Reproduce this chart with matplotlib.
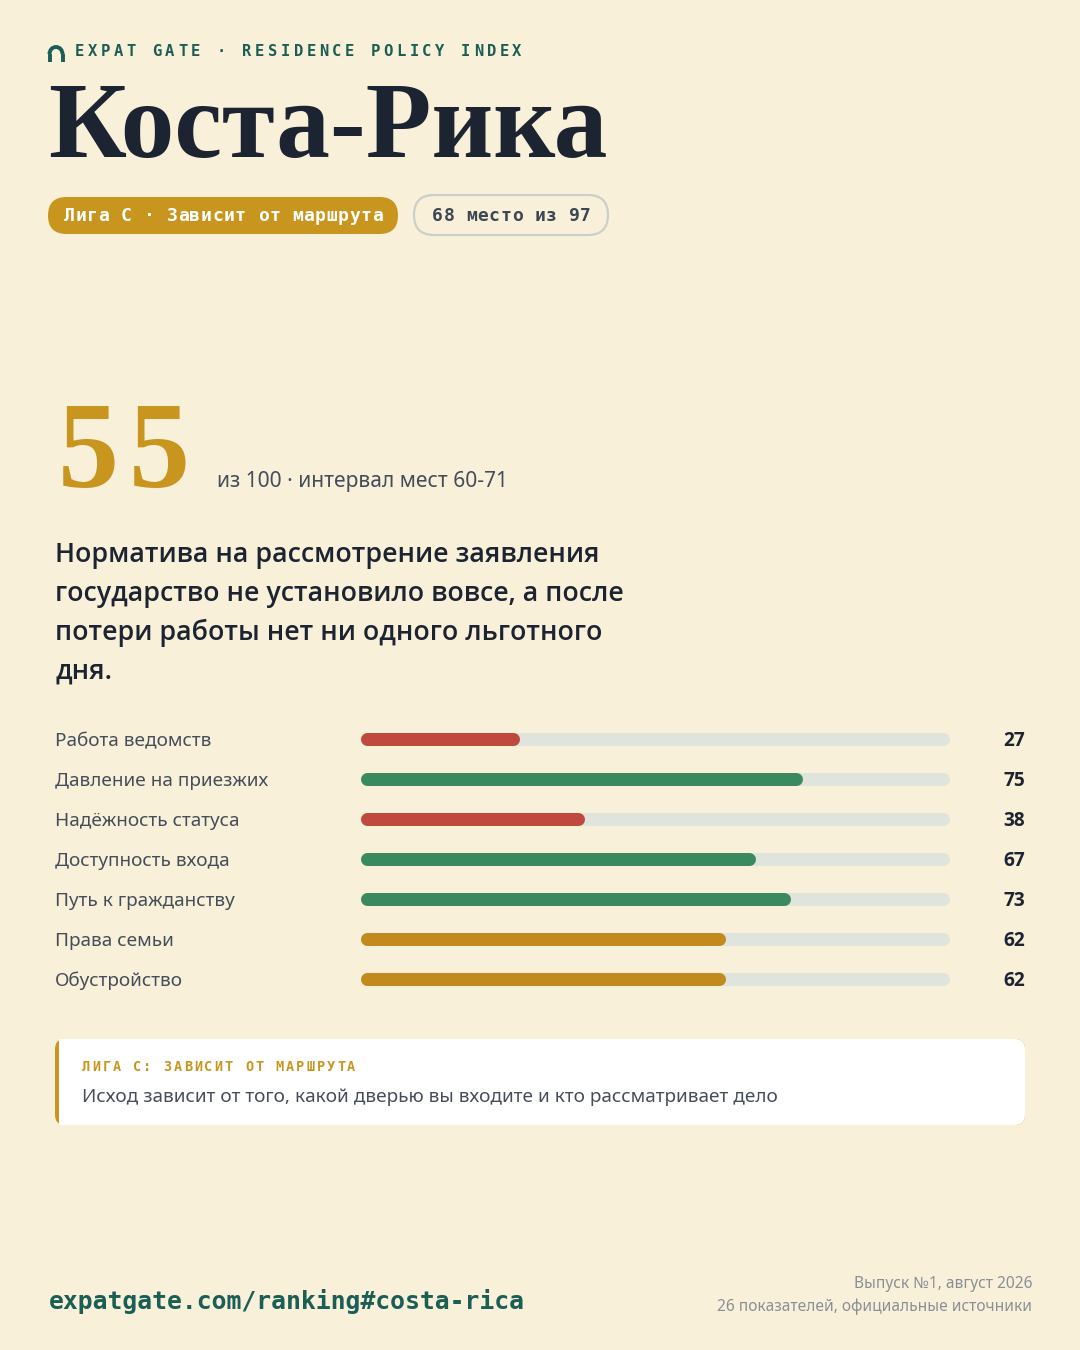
import matplotlib
matplotlib.use("Agg")
import matplotlib.pyplot as plt
from matplotlib import font_manager as fm
from matplotlib.patches import FancyBboxPatch, Arc
from matplotlib.transforms import blended_transform_factory

# data
country = "Коста-Рика"
score = 55
league_text = "Лига C · Зависит от маршрута"
rank_text = "68 место из 97"
score_sub = "из 100 · интервал мест 60-71"
headline = ["Норматива на рассмотрение заявления",
            "государство не установило вовсе, а после",
            "потери работы нет ни одного льготного",
            "дня."]
categories = ["Работа ведомств", "Давление на приезжих", "Надёжность статуса",
              "Доступность входа", "Путь к гражданству", "Права семьи", "Обустройство"]
values = [27, 75, 38, 67, 73, 62, 62]
bar_colors = ["#c0493d", "#3b8a5f", "#c0493d", "#3b8a5f", "#3b8a5f", "#c28a1c", "#c28a1c"]
note_title = "ЛИГА C: ЗАВИСИТ ОТ МАРШРУТА"
note_text = "Исход зависит от того, какой дверью вы входите и кто рассматривает дело"
url = "expatgate.com/ranking#costa-rica"
footer_lines = ["Выпуск №1, август 2026", "26 показателей, официальные источники"]

BG = "#f9f0da"
TEAL = "#1b5e55"
GOLD = "#c8951f"
DARK = "#1c2331"
GREY = "#454d5a"
PX = 0.72  # px -> pt at dpi 100


def pick(families, weight, tag):
    # first family whose resolved file really has the wanted weight
    for f in families:
        try:
            path = fm.findfont(fm.FontProperties(family=f, weight=weight), fallback_to_default=False)
        except Exception:
            continue
        name = path.lower().replace("-", "").replace("_", "")
        if f.lower().replace(" ", "") in name and tag in name:
            return f
    return families[-1]


SEMI = pick(["Noto Sans", "Open Sans", "Inter", "Roboto"], 600, "semibold")
if SEMI == "Roboto":
    SEMI = pick(["Roboto", "Noto Sans", "Open Sans"], 500, "medium")
BOLD = pick(["Noto Sans", "Open Sans", "Roboto", "Lato", "DejaVu Sans"], "bold", "bold")

fig = plt.figure(figsize=(10.8, 13.5), dpi=100, facecolor=BG)
bg = fig.add_axes([0, 0, 1, 1])
bg.set_xlim(0, 1080)
bg.set_ylim(1350, 0)
bg.axis("off")


def spaced(x, y, s, step, **kw):
    for i, ch in enumerate(s):
        bg.text(x + i * step, y, ch, ha="left", va="center", **kw)


# header
bg.add_patch(Arc((56, 54), 13, 14, theta1=180, theta2=360, color=TEAL, lw=2.8))
bg.plot([49.5, 49.5], [54, 62], color=TEAL, lw=2.8, solid_capstyle="butt")
bg.plot([62.5, 62.5], [54, 62], color=TEAL, lw=2.8, solid_capstyle="butt")
spaced(75, 51, "EXPAT GATE · RESIDENCE POLICY INDEX", 12.86,
       family="DejaVu Sans Mono", fontweight="bold", fontsize=15.5 * PX, color=TEAL)

bg.text(48, 157, country, family="Liberation Serif", fontweight="bold",
        fontsize=107.5 * PX, color=DARK, ha="left", va="baseline")

# pills
bg.add_patch(FancyBboxPatch((48, 197), 350, 37, boxstyle="round,pad=0,rounding_size=18.5",
                            fc=GOLD, ec="none"))
spaced(64, 216, league_text, 11.4, family="DejaVu Sans Mono", fontweight="bold",
       fontsize=18 * PX, color="white")
bg.add_patch(FancyBboxPatch((414, 195), 194, 40, boxstyle="round,pad=0,rounding_size=20",
                            fc="none", ec="#c9cfca", lw=1.6))
spaced(432, 216, rank_text, 11.4, family="DejaVu Sans Mono", fontweight="bold",
       fontsize=18 * PX, color="#3d4655")

# score
for i, d in enumerate(str(score)):
    bg.text(58 + i * 71, 487, d, family="Liberation Serif", fontweight="bold",
            fontsize=122 * PX, color=GOLD, ha="left", va="baseline")
bg.text(217, 487, score_sub, family="Noto Sans", fontsize=21 * PX, color=GREY,
        ha="left", va="baseline")

for i, line in enumerate(headline):
    bg.text(55, 562 + i * 39, line, family=SEMI, fontweight="semibold",
            fontsize=26.7 * PX, color=DARK, ha="left", va="baseline")

# bars
ax = fig.add_axes([360 / 1080, 1 - 999 / 1350, 590 / 1080, 280 / 1350])
ax.set_xlim(0, 100)
ax.set_ylim(len(categories) - 0.5, -0.5)
ax.axis("off")
bar_lw = 13 * PX
half = 6.5 / 590 * 100
for i, (v, c) in enumerate(zip(values, bar_colors)):
    ax.plot([half, 100 - half], [i, i], color="#dfe4dc", lw=bar_lw, solid_capstyle="round")
    ax.plot([half, v - half], [i, i], color=c, lw=bar_lw, solid_capstyle="round")

tr = blended_transform_factory(bg.transData, ax.transData)
for i, (cat, v) in enumerate(zip(categories, values)):
    ax.text(55, i, cat, transform=tr, family="Noto Sans", fontsize=19 * PX,
            color=GREY, ha="left", va="center_baseline", clip_on=False)
    ax.text(1025, i, str(v), transform=tr, family=BOLD, fontweight="bold",
            fontsize=19 * PX, color=DARK, ha="right", va="center_baseline", clip_on=False)

# note box
bg.add_patch(FancyBboxPatch((55, 1039), 970, 86, boxstyle="round,pad=0,rounding_size=10",
                            fc=GOLD, ec="none"))
bg.add_patch(FancyBboxPatch((59, 1039), 966, 86, boxstyle="round,pad=0,rounding_size=10",
                            fc="white", ec="none"))
bg.add_patch(plt.Rectangle((59, 1039), 12, 86, fc="white", ec="none"))
spaced(82, 1067, note_title, 10.2, family="DejaVu Sans Mono", fontweight="bold",
       fontsize=13.5 * PX, color=GOLD)
bg.text(82, 1095, note_text, family="Noto Sans", fontsize=19 * PX, color=GREY,
        ha="left", va="center_baseline")

# footer
bg.text(49, 1301, url, family="DejaVu Sans Mono", fontweight="bold",
        fontsize=24.8 * PX, color=TEAL, ha="left", va="center")
for i, line in enumerate(footer_lines):
    bg.text(1032, 1282 + i * 23, line, family="Noto Sans", fontsize=15.5 * PX,
            color="#8a8f96", ha="right", va="center_baseline")

fig.savefig("out.png", dpi=100, facecolor=BG)
